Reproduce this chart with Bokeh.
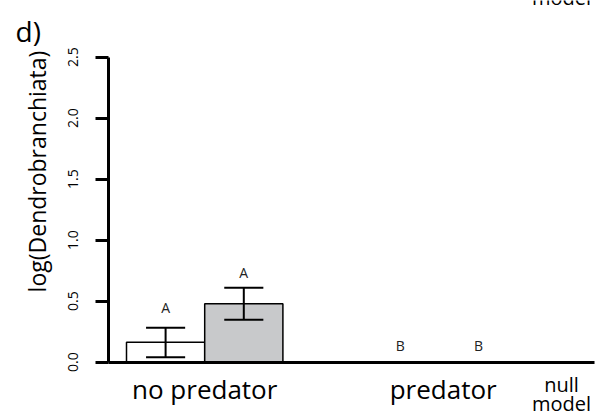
import math
from bokeh.plotting import figure
from bokeh.models import Range1d, FixedTicker, ColumnDataSource
from bokeh.core.properties import value
from bokeh.embed import file_html
from bokeh.resources import INLINE

# ---- data ----
group_names = ["no predator", "predator"]
group_x = [1.0, 4.05]
bar_x = [0.5, 1.5, 3.5, 4.5]
bar_means = [0.164, 0.479, 0.0, 0.0]
err_lo = [0.041, 0.347, 0.0, 0.0]
err_hi = [0.282, 0.610, 0.0, 0.0]
bar_colors = ["white", "#c8c9cb", "white", "#c8c9cb"]
letters = ["A", "A", "B", "B"]
letter_y = [0.45, 0.738, 0.137, 0.137]
y_ticks = [0.0, 0.5, 1.0, 1.5, 2.0, 2.5]
y_tick_labels = ["0.0", "0.5", "1.0", "1.5", "2.0", "2.5"]
y_title = "log(Dendrobranchiata)"
null_lines = ["null", "model"]
panel_tag = "d)"

FONT = "Open Sans"
W, H = 603, 416

# scale: bar units -> pixels (frame covers the whole canvas)
PX_PER_X = 78.2
X0_PX = 126.0          # pixel of x = 0
PX_PER_Y = 122.0
Y0_PX = 361.7          # pixel (from top) of y = 0


def dx(px):
    return (px - X0_PX) / PX_PER_X


def dy(py):
    return (Y0_PX - py) / PX_PER_Y


p = figure(width=W, height=H, output_backend="svg", toolbar_location=None,
           x_range=Range1d(dx(0), dx(W)), y_range=Range1d(dy(H), dy(0)),
           min_border=0, min_border_left=0, min_border_right=0,
           min_border_top=0, min_border_bottom=0)
p.outline_line_color = None
p.xgrid.visible = False
p.ygrid.visible = False
p.background_fill_color = "white"
p.border_fill_color = "white"

axis_x = dx(108.3)
axis_x_end = dx(594)

# y axis (library axis, fixed at its place, limited to 0..2.5)
ya = p.yaxis[0]
ya.fixed_location = axis_x
ya.bounds = (y_ticks[0], y_ticks[-1])
ya.ticker = FixedTicker(ticks=y_ticks)
ya.major_label_overrides = {t: l for t, l in zip(y_ticks, y_tick_labels)}
ya.major_label_orientation = "vertical"
ya.axis_line_width = 3
ya.major_tick_line_width = 3
ya.major_tick_out = 13
ya.major_tick_in = 0
ya.minor_tick_out = 0
ya.minor_tick_in = 0
ya.major_label_text_font = FONT
ya.major_label_text_font_size = "14px"
ya.major_label_text_color = "black"
ya.major_label_standoff = 18

# x axis (baseline at y = 0 with the group names)
xa = p.xaxis[0]
xa.fixed_location = 0
xa.bounds = (axis_x, axis_x_end)
xa.ticker = FixedTicker(ticks=group_x)
xa.major_label_overrides = {t: l for t, l in zip(group_x, group_names)}
xa.axis_line_width = 3
xa.major_tick_out = 0
xa.major_tick_in = 0
xa.minor_tick_out = 0
xa.minor_tick_in = 0
xa.major_label_text_font = FONT
xa.major_label_text_font_size = "26px"
xa.major_label_text_color = "black"
xa.major_label_standoff = 9

# bars
src = ColumnDataSource(dict(x=bar_x, top=bar_means, color=bar_colors))
p.vbar(x="x", top="top", bottom=0, width=1.0, source=src, fill_color="color",
       line_color="black", line_width=1.5)

# error bars (only where there is spread)
cap = 0.25
ex, elo, ehi = [], [], []
for x, lo, hi in zip(bar_x, err_lo, err_hi):
    if hi > lo:
        ex.append(x); elo.append(lo); ehi.append(hi)
p.segment(x0=ex, y0=elo, x1=ex, y1=ehi, line_color="black", line_width=2)
p.segment(x0=[x - cap for x in ex], y0=elo, x1=[x + cap for x in ex], y1=elo,
          line_color="black", line_width=2)
p.segment(x0=[x - cap for x in ex], y0=ehi, x1=[x + cap for x in ex], y1=ehi,
          line_color="black", line_width=2)

# significance letters
p.text(x=bar_x, y=letter_y, text=letters, text_font=value(FONT), text_font_size="14px",
       text_align="center", text_baseline="middle", text_color="#222222")

# y axis title
p.text(x=[dx(36)], y=[dy(171)], text=[y_title], angle=math.pi / 2,
       text_font=value(FONT), text_font_size="23px",
       text_align="center", text_baseline="middle", text_color="black")
# null model label
p.text(x=[dx(561), dx(561)], y=[dy(384), dy(403)], text=null_lines,
       text_font=value(FONT), text_font_size="20px",
       text_align="center", text_baseline="middle", text_color="black")
# remnant of the panel above (cut by the top edge)
p.text(x=[dx(561)], y=[dy(-3)], text=[null_lines[1]],
       text_font=value(FONT), text_font_size="20px",
       text_align="center", text_baseline="middle", text_color="black")
# panel tag
p.text(x=[dx(15)], y=[dy(30)], text=[panel_tag],
       text_font=value(FONT), text_font_size="28px",
       text_align="left", text_baseline="middle", text_color="black")

open("out.html", "w").write(file_html(p, INLINE))
